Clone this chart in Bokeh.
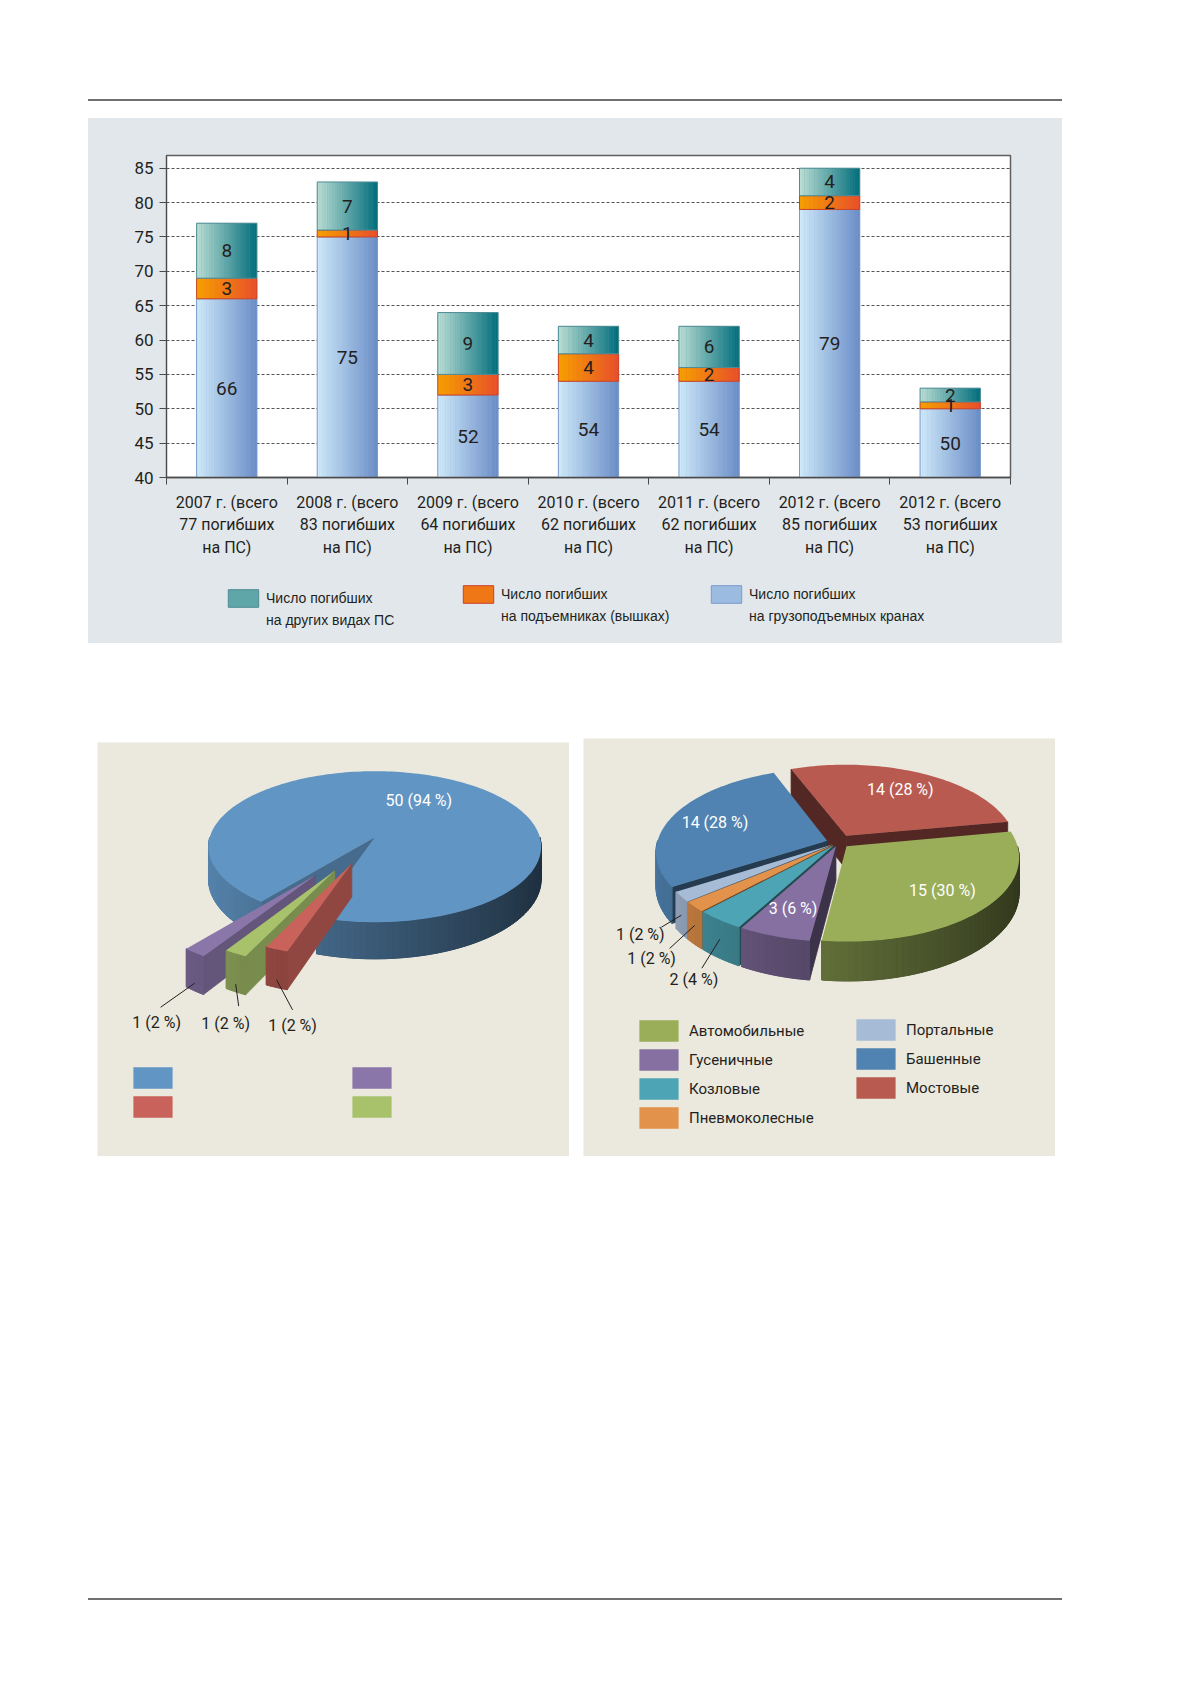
import numpy as np
from bokeh.plotting import figure
from bokeh.layouts import column, row
from bokeh.models import Range1d, FixedTicker, Legend, LegendItem, Spacer, Div
from bokeh.core.properties import value
from bokeh.embed import file_html
from bokeh.resources import INLINE

NARROW = "Roboto"
REGULAR = "Liberation Sans"
INK = "#231f20"
GREY_BG = "#e2e7eb"
BEIGE = "#ebe8dd"

# ---- bar chart data
year_labels = [
    "2007 г. (всего\n77 погибших\nна ПС)",
    "2008 г. (всего\n83 погибших\nна ПС)",
    "2009 г. (всего\n64 погибших\nна ПС)",
    "2010 г. (всего\n62 погибших\nна ПС)",
    "2011 г. (всего\n62 погибших\nна ПС)",
    "2012 г. (всего\n85 погибших\nна ПС)",
    "2012 г. (всего\n53 погибших\nна ПС)",
]
cranes = [66, 75, 52, 54, 54, 79, 50]
lifts = [3, 1, 3, 4, 2, 2, 1]
others = [8, 7, 9, 4, 6, 4, 2]
series_names = [
    ("Число погибших", "на грузоподъемных кранах"),
    ("Число погибших", "на подъемниках (вышках)"),
    ("Число погибших", "на других видах ПС"),
]
y_ticks = [40, 45, 50, 55, 60, 65, 70, 75, 80, 85]

# ---- left pie data (no category names in the source)
pie1_values = [50, 1, 1, 1]

# ---- right pie data
pie2_names = ["Мостовые", "Автомобильные", "Гусеничные", "Козловые",
              "Пневмоколесные", "Портальные", "Башенные"]
pie2_values = [14, 15, 3, 2, 1, 1, 14]


def mix(c1, c2, t):
    a = [int(c1[i:i + 2], 16) for i in (1, 3, 5)]
    b = [int(c2[i:i + 2], 16) for i in (1, 3, 5)]
    return "#%02x%02x%02x" % tuple(int(round(a[k] + (b[k] - a[k]) * t)) for k in range(3))


def shade(c, f):
    return mix("#000000", c, max(0.0, min(1.0, f)))


# =============== bar chart ===============
n = len(year_labels)
xc = [i + 0.5 for i in range(n)]

bar = figure(width=974, height=447, x_range=Range1d(0, n), y_range=Range1d(40, 86.85),
             output_backend="svg", toolbar_location=None,
             min_border_left=78, min_border_right=52, min_border_top=37, min_border_bottom=88,
             border_fill_color=GREY_BG, background_fill_color="#ffffff",
             outline_line_color="#5f5f5f", outline_line_width=1.5)

# (values, left colour, right colour, edge colour)
segments = [
    (cranes, "#cfeafa", "#6a8cc6", "#7b9bcb"),
    (lifts, "#f6a000", "#e84e2b", "#c9432b"),
    (others, "#bcded4", "#006d7b", "#4f8c95"),
]
N = 24
bottom = [0] * n
lab_x, lab_y, lab_t = [], [], []
for vals, c_left, c_right, c_edge in segments:
    top = [b + v for b, v in zip(bottom, vals)]
    bar.vbar(x=xc, bottom=bottom, top=top, width=0.5,
             fill_color=mix(c_left, c_right, 0.5), line_color=None)
    sx, sb, st, sc = [], [], [], []
    for j in range(N):
        t = (j + 0.5) / N
        for i in range(n):
            sx.append(xc[i] - 0.25 + 0.5 * t)
            sb.append(bottom[i])
            st.append(top[i])
            sc.append(mix(c_left, c_right, t))
    bar.vbar(x=sx, bottom=sb, top=st, width=0.5 / N * 1.1, fill_color=sc, line_color=None)
    bar.vbar(x=xc, bottom=bottom, top=top, width=0.5, fill_color=None,
             line_color=c_edge, line_width=1)
    for i in range(n):
        lab_x.append(xc[i])
        lab_y.append((max(bottom[i], 40) + top[i]) / 2)
        lab_t.append(str(vals[i]))
    bottom = top

bar.text(x=lab_x, y=lab_y, text=lab_t, text_font=value(NARROW), text_font_size="19px",
         text_color=INK, text_align="center", text_baseline="middle")

bar.yaxis.ticker = FixedTicker(ticks=y_ticks)
bar.yaxis.major_label_text_font = NARROW
bar.yaxis.major_label_text_font_size = "17px"
bar.yaxis.major_label_text_color = INK
bar.yaxis.major_tick_out = 7
bar.yaxis.major_tick_in = 0
bar.yaxis.minor_tick_out = 0
bar.yaxis.minor_tick_in = 0
bar.yaxis.major_label_standoff = 6
bar.yaxis.axis_line_color = "#4a4a4a"
bar.yaxis.major_tick_line_color = "#4a4a4a"

bar.xaxis.ticker = FixedTicker(ticks=xc, minor_ticks=list(range(n + 1)))
bar.xaxis.major_label_overrides = {float(x): lab for x, lab in zip(xc, year_labels)}
bar.xaxis.major_tick_out = 0
bar.xaxis.major_tick_in = 0
bar.xaxis.minor_tick_out = 7
bar.xaxis.minor_tick_in = 0
bar.xaxis.minor_tick_line_color = "#4a4a4a"
bar.xaxis.axis_line_color = "#4a4a4a"
bar.xaxis.axis_line_width = 1.5
bar.xaxis.major_label_standoff = 8
bar.xaxis.major_label_text_font = NARROW
bar.xaxis.major_label_text_font_size = "16px"
bar.xaxis.major_label_text_color = INK

bar.xgrid.visible = False
bar.ygrid.grid_line_color = "#555555"
bar.ygrid.grid_line_dash = "3 2"
bar.ygrid.grid_line_width = 1

# legend strip under the bar chart (its frame lines up with the bar frame);
# transparent, the panel colour comes from the enclosing column
strip = figure(width=974, height=78, x_range=Range1d(0, 1), y_range=Range1d(0, 1),
               output_backend="svg", toolbar_location=None, min_border=0,
               x_axis_location=None, y_axis_location=None, outline_line_color=None,
               border_fill_color=None, background_fill_color=None)
strip.grid.visible = False
# hidden swatch renderers: only their legend glyphs are drawn
blank = strip.vbar(x=[0.5], top=[1], width=0.5, fill_alpha=0, line_alpha=0, visible=False)
leg_pos = [(58, 12), (293, 16), (541, 16)]
for k, (xp, yp) in zip([2, 1, 0], leg_pos):
    vals, c_left, c_right, c_edge = segments[k]
    proxy = strip.vbar(x=[0.5], top=[1], width=0.5, fill_color=mix(c_left, c_right, 0.5),
                       line_color=c_edge, line_width=1, visible=False)
    first, second = series_names[k]
    lg = Legend(items=[LegendItem(label=first, renderers=[proxy]),
                       LegendItem(label=second, renderers=[blank])],
                location=(xp, yp), orientation="vertical", padding=0, margin=0,
                glyph_width=38, glyph_height=22, label_standoff=4, spacing=-2,
                border_line_color=None, background_fill_alpha=0,
                label_text_font=REGULAR, label_text_font_size="14px",
                label_text_color=INK)
    strip.add_layout(lg, "center")


# =============== 3D pies ===============
def pie_figure(h):
    p = figure(width=472, height=h, x_range=Range1d(0, 472), y_range=Range1d(h, 0),
               output_backend="svg", toolbar_location=None, min_border=0,
               x_axis_location=None, y_axis_location=None,
               border_fill_color=BEIGE, background_fill_color=BEIGE, outline_line_color=None)
    p.grid.visible = False
    return p


def draw_pie(p, values, tops, start, cx, cy, rx, ry, persp, depth, explode, cut_k):
    total = float(sum(values))
    edges = start + 360.0 * np.concatenate([[0.0], np.cumsum(values)]) / total
    info = []

    def proj(theta, frac, off, h=0.0):
        t = np.radians(np.asarray(theta, dtype=float))
        X = frac * np.sin(t) + off[0]
        W = -frac * np.cos(t) + off[1]
        g = 1.0 / (1.0 - persp * W)
        return cx + rx * X * g, cy + ry * W * g + h * depth * g

    for i in range(len(values)):
        a0, a1 = edges[i], edges[i + 1]
        mid = (a0 + a1) / 2
        e = explode[i] / rx
        off = (e * np.sin(np.radians(mid)), -e * np.cos(np.radians(mid)))
        info.append((a0, a1, mid, off))

    order = sorted(range(len(values)), key=lambda i: -np.cos(np.radians(info[i][2])))
    renderers = {}
    for i in order:
        a0, a1, mid, off = info[i]
        col = tops[i]
        xs, ys, cs = [], [], []
        ax, ay = proj(0.0, 0.0, off)
        bx, by = proj(0.0, 0.0, off, 1.0)
        for a, vis in ((a0, np.sin(np.radians(a0)) < 0), (a1, np.sin(np.radians(a1)) > 0)):
            if vis:
                rx0, ry0 = proj(a, 1.0, off)
                rx1, ry1 = proj(a, 1.0, off, 1.0)
                xs.append([ax, rx0, rx1, bx])
                ys.append([ay, ry0, ry1, by])
                cs.append(shade(col, cut_k))
        for m in (-1, 0, 1, 2):
            lo, hi = max(a0, 90 + 360 * m), min(a1, 270 + 360 * m)
            if hi <= lo:
                continue
            ts = np.linspace(lo, hi, int(np.ceil((hi - lo) / 2.0)) + 1)
            tx, ty = proj(ts, 1.0, off)
            bx2, by2 = proj(ts, 1.0, off, 1.0)
            # base wall piece underneath the shaded strips
            xs.append(list(tx) + list(bx2[::-1]))
            ys.append(list(ty) + list(by2[::-1]))
            cs.append(shade(col, 0.6 - 0.28 * np.sin(np.radians((lo + hi) / 2))))
            for j in range(len(ts) - 1):
                xs.append([tx[j], tx[j + 1], bx2[j + 1], bx2[j]])
                ys.append([ty[j], ty[j + 1], by2[j + 1], by2[j]])
                cs.append(shade(col, 0.6 - 0.28 * np.sin(np.radians((ts[j] + ts[j + 1]) / 2))))
        if xs:
            p.patches(xs=[[float(v) for v in x] for x in xs], ys=[[float(v) for v in y] for y in ys],
                      fill_color=cs, line_color=cs, line_width=0.8)
        ts = np.linspace(a0, a1, max(3, int(np.ceil((a1 - a0) / 1.5)) + 1))
        tx, ty = proj(ts, 1.0, off)
        renderers[i] = p.patch(x=[float(ax)] + [float(v) for v in tx],
                               y=[float(ay)] + [float(v) for v in ty],
                               fill_color=col, line_color=None)
    return renderers, info, proj


def pie_labels(p, values, info, proj, inner_frac, depth_k, leaders):
    total = float(sum(values))
    ix, iy, it = [], [], []
    sx0, sy0, sx1, sy1 = [], [], [], []
    ox, oy, ot = [], [], []
    for i, v in enumerate(values):
        a0, a1, mid, off = info[i]
        txt = "%d (%d %%)" % (v, round(100 * v / total))
        if v / total >= 0.05:
            x, y = proj(mid, inner_frac, off)
            ix.append(float(x)); iy.append(float(y)); it.append(txt)
        else:
            x, y = proj(mid, 1.0, off, depth_k)
            (ldx, ldy), (tdx, tdy) = leaders[i]
            sx0.append(float(x)); sy0.append(float(y))
            sx1.append(float(x) + ldx); sy1.append(float(y) + ldy)
            ox.append(float(x) + ldx + tdx); oy.append(float(y) + ldy + tdy); ot.append(txt)
    p.text(x=ix, y=iy, text=it, text_font=value(NARROW), text_font_size="16px",
           text_color="#ffffff", text_align="center", text_baseline="middle")
    p.segment(x0=sx0, y0=sy0, x1=sx1, y1=sy1, line_color=INK, line_width=1)
    p.text(x=ox, y=oy, text=ot, text_font=value(NARROW), text_font_size="16px",
           text_color=INK, text_align="center", text_baseline="middle")


def pie_legend(p, items, loc):
    lg = Legend(items=items, location=loc, orientation="vertical", padding=0, margin=0,
                glyph_width=49, glyph_height=27, label_standoff=6, spacing=2,
                border_line_color=None, background_fill_alpha=0,
                label_text_font=NARROW, label_text_font_size="15px", label_text_color=INK)
    p.add_layout(lg, "center")


# ---- left pie
pie1 = pie_figure(414)
pie1_tops = ["#6195c4", "#c9625a", "#a7c26b", "#8b76aa"]
r1, info1, proj1 = draw_pie(pie1, pie1_values, pie1_tops, start=218.5,
                            cx=277.3, cy=94.7, rx=165, ry=74.3, persp=0.126, depth=32,
                            explode=[0, 60, 80, 97], cut_k=0.72)
pie_labels(pie1, pie1_values, info1, proj1, 0.6, 0.8,
           {1: ((16, 30), (0, 16)), 2: ((3, 22), (-13, 17)), 3: ((-34, 24), (-4, 15))})
pie_legend(pie1, [LegendItem(label=" ", renderers=[r1[0]]), LegendItem(label=" ", renderers=[r1[1]])], (31, 36))
pie_legend(pie1, [LegendItem(label=" ", renderers=[r1[3]]), LegendItem(label=" ", renderers=[r1[2]])], (250, 36))

# ---- right pie
pie2 = pie_figure(418)
pie2_tops = ["#b95a51", "#9aae5a", "#8670a2", "#4da4b4", "#e2924a", "#a6bbd6", "#5083b2"]
r2, info2, proj2 = draw_pie(pie2, pie2_values, pie2_tops, start=-21.2,
                            cx=255, cy=104, rx=170, ry=82, persp=0.13, depth=34,
                            explode=[16, 11, 8, 8, 8, 8, 12], cut_k=0.45)
pie_labels(pie2, pie2_values, info2, proj2, 0.72, 0.5,
           {3: ((-18, 29), (-8, 11)), 4: ((-25, 23), (-18, 10)), 5: ((-20, 12), (-21, 7))})
col1 = [1, 2, 3, 4]
col2 = [5, 6, 0]
pie_legend(pie2, [LegendItem(label=pie2_names[i], renderers=[r2[i]]) for i in col1], (51, 25))
pie_legend(pie2, [LegendItem(label=pie2_names[i], renderers=[r2[i]]) for i in col2], (268, 55))


# =============== page ===============
def rule():
    return Div(width=974, height=2, margin=0, styles={"background-color": "#707070"})


page = column(
    Spacer(height=99),
    row(Spacer(width=88), rule()),
    Spacer(height=17),
    row(Spacer(width=88), column(bar, strip, styles={"background-color": GREY_BG})),
    Spacer(height=95),
    row(Spacer(width=97), column(Spacer(height=4), pie1), Spacer(width=14), pie2),
    Spacer(height=442),
    row(Spacer(width=88), rule()),
)

open("out.html", "w").write(file_html(page, INLINE))
